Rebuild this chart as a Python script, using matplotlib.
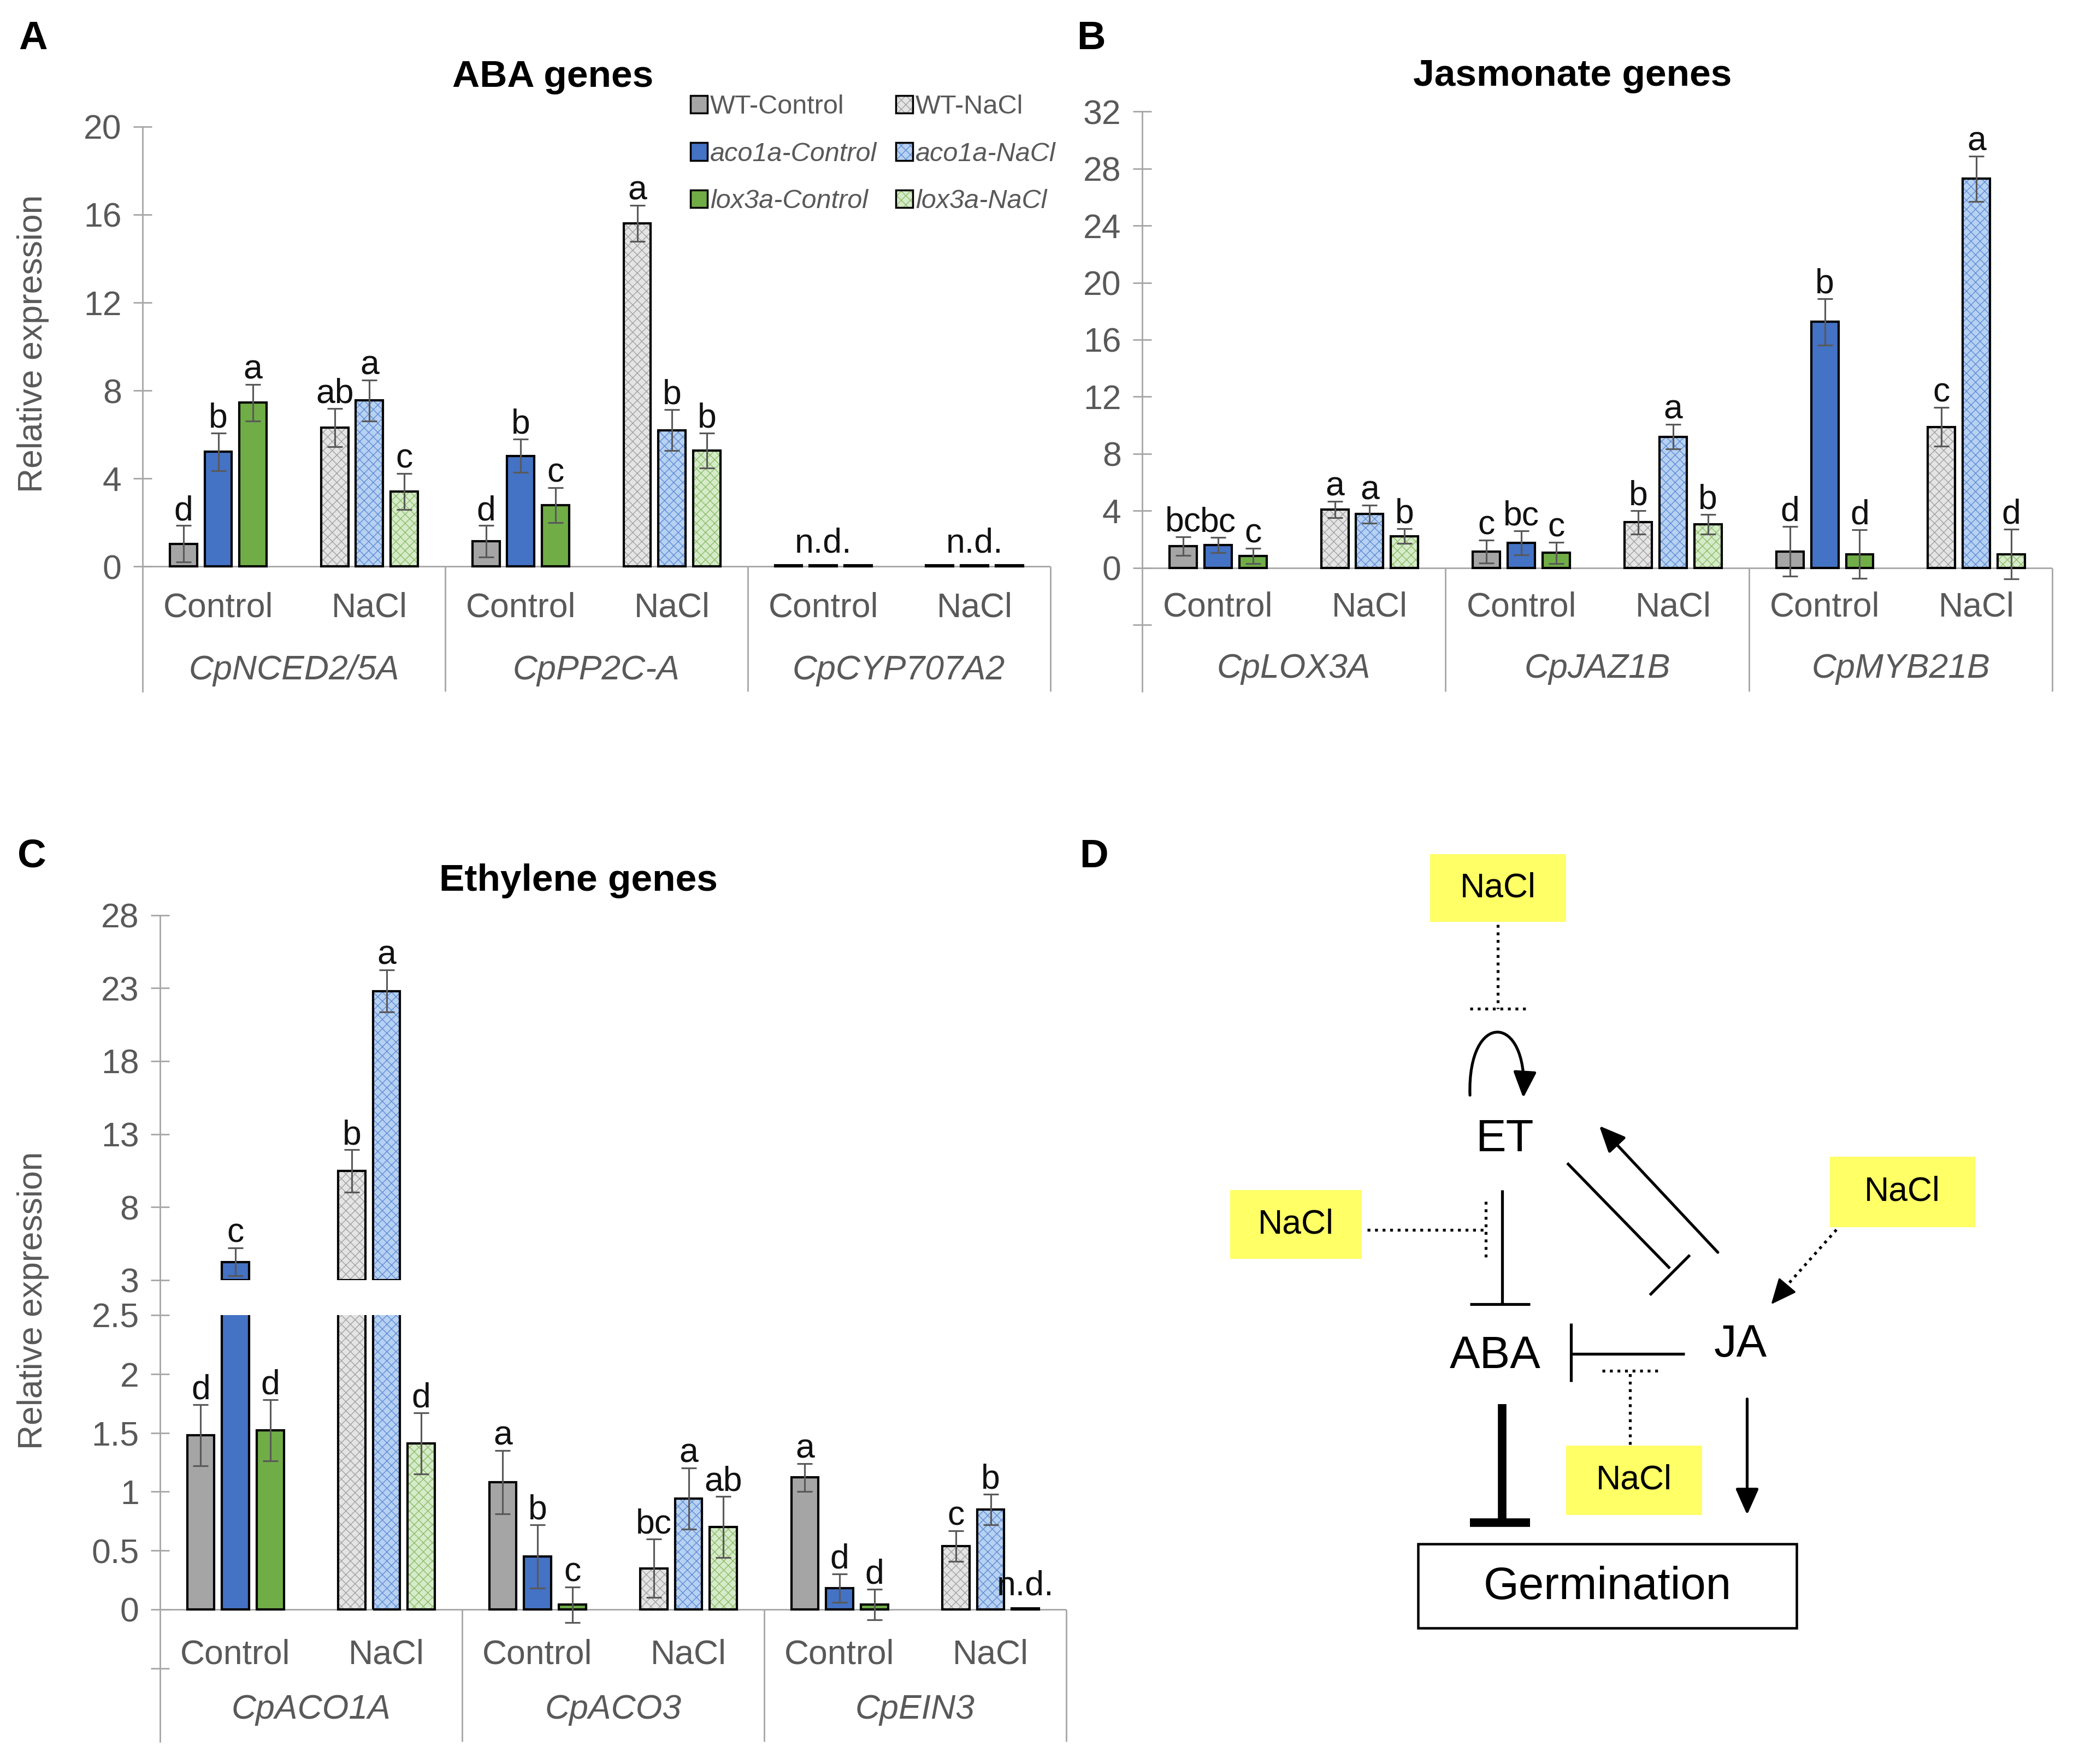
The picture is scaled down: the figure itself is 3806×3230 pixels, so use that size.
import numpy as np
import matplotlib.pyplot as plt
import matplotlib.patches as mpatches
from matplotlib.lines import Line2D
from matplotlib.path import Path

plt.rcParams['font.family'] = ['Liberation Sans', 'DejaVu Sans']
plt.rcParams['hatch.linewidth'] = 0.4

# ---- data ----
conditions = ['Control', 'NaCl', 'Control', 'NaCl', 'Control', 'NaCl']
genotypes = ['WT', 'aco1a', 'lox3a']

aba_genes = ['CpNCED2/5A', 'CpPP2C-A', 'CpCYP707A2']
aba_wt = [1.03, 6.31, 1.14, 15.6, 0.05, 0.05]
aba_wt_err = [0.83, 0.87, 0.72, 0.83, 0, 0]
aba_aco = [5.21, 7.55, 5.03, 6.2, 0.05, 0.05]
aba_aco_err = [0.85, 0.93, 0.76, 0.93, 0, 0]
aba_lox = [7.45, 3.41, 2.79, 5.27, 0.05, 0.05]
aba_lox_err = [0.83, 0.83, 0.79, 0.79, 0, 0]
aba_wt_sig = ['d', 'ab', 'd', 'a', '', '']
aba_aco_sig = ['b', 'a', 'b', 'b', 'n.d.', 'n.d.']
aba_lox_sig = ['a', 'c', 'c', 'b', '', '']

jas_genes = ['CpLOX3A', 'CpJAZ1B', 'CpMYB21B']
jas_wt = [1.53, 4.08, 1.15, 3.19, 1.15, 9.89]
jas_wt_err = [0.64, 0.58, 0.8, 0.83, 1.75, 1.37]
jas_aco = [1.6, 3.77, 1.75, 9.19, 17.26, 27.28]
jas_aco_err = [0.55, 0.63, 0.83, 0.86, 1.63, 1.6]
jas_lox = [0.83, 2.23, 1.05, 3.06, 0.96, 0.96]
jas_lox_err = [0.55, 0.51, 0.74, 0.7, 1.7, 1.75]
jas_wt_sig = ['bc', 'a', 'c', 'b', 'd', 'c']
jas_aco_sig = ['bc', 'a', 'bc', 'a', 'b', 'a']
jas_lox_sig = ['c', 'b', 'c', 'b', 'd', 'd']

eth_genes = ['CpACO1A', 'CpACO3', 'CpEIN3']
eth_wt = [1.48, 10.47, 1.08, 0.35, 1.12, 0.54]
eth_wt_err = [0.26, 1.45, 0.27, 0.25, 0.12, 0.13]
eth_aco = [4.25, 22.8, 0.45, 0.94, 0.18, 0.85]
eth_aco_err = [0.97, 1.45, 0.27, 0.26, 0.12, 0.13]
eth_lox = [1.52, 1.41, 0.04, 0.7, 0.04, 0.01]
eth_lox_err = [0.26, 0.26, 0.15, 0.26, 0.13, 0]
eth_wt_sig = ['d', 'b', 'a', 'bc', 'a', 'c']
eth_aco_sig = ['c', 'a', 'b', 'a', 'd', 'b']
eth_lox_sig = ['d', 'd', 'c', 'ab', 'd', 'n.d.']

aba_ticks = [0, 4, 8, 12, 16, 20]
jas_ticks = [-4, 0, 4, 8, 12, 16, 20, 24, 28, 32]
eth_top_ticks = [3, 8, 13, 18, 23, 28]
eth_low_ticks = [-0.5, 0, 0.5, 1, 1.5, 2, 2.5]

legend_labels = ['WT-Control', 'aco1a-Control', 'lox3a-Control',
                 'WT-NaCl', 'aco1a-NaCl', 'lox3a-NaCl']

# ---- style ----
ctrl_col = ['#A5A5A5', '#4472C4', '#70AD47']
nacl_col = ['#E4E4E4', '#B7D1F2', '#D6EBC9']
hatch_col = ['#A2A2A2', '#5F8DD6', '#8CBD69']
HATCH = 'xxxxx'
axis_gray = '#A6A6A6'
text_gray = '#595959'
offsets = [-0.23, 0.0, 0.23]
bw = 0.18
FS = 18
EDGE = 1.2

W, H = 1560.0, 1324.0


def box(l, t, r, b):
    return [l / W, 1 - b / H, (r - l) / W, (b - t) / H]


def draw_bars(ax, series, errs, sigs, lo=None, hi=None, base=0.0):
    for k in range(3):
        v = np.asarray(series[k], float)
        e = np.asarray(errs[k], float)
        x = np.arange(6) + offsets[k]
        show = np.ones(6, bool) if lo is None else v > lo
        ann = np.ones(6, bool) if hi is None else v <= hi
        if lo is not None:
            ann = ann & show
        ctrl = show & (np.arange(6) % 2 == 0)
        nacl = show & (np.arange(6) % 2 == 1)
        ax.bar(x[ctrl], v[ctrl] - base, bw, bottom=base, color=ctrl_col[k],
               edgecolor='black', linewidth=EDGE, zorder=2)
        ax.bar(x[nacl], v[nacl] - base, bw, bottom=base, color=nacl_col[k],
               hatch=HATCH, edgecolor=hatch_col[k], linewidth=0, zorder=2)
        ax.bar(x[nacl], v[nacl] - base, bw, bottom=base, fill=False,
               edgecolor='black', linewidth=EDGE, zorder=3)
        eb = ann & (e > 0)
        ax.errorbar(x[eb], v[eb], yerr=e[eb], fmt='none', ecolor=text_gray,
                    elinewidth=0.9, capsize=4, capthick=0.9, zorder=4)
        for i in np.where(ann)[0]:
            if sigs[k][i]:
                dy = 7 if sigs[k][i] == 'n.d.' else 3
                ax.annotate(sigs[k][i], (x[i], v[i] + e[i]), xytext=(0, dy),
                            textcoords='offset points', ha='center', va='baseline',
                            fontsize=FS, color='#111111', zorder=5)


def setup_y(ax, ylo, yhi, ticks):
    ax.set_xlim(-0.5, 5.5)
    ax.set_ylim(ylo, yhi)
    for s in ['top', 'right', 'bottom']:
        ax.spines[s].set_visible(False)
    ax.spines['left'].set_color(axis_gray)
    ax.spines['left'].set_linewidth(0.8)
    ax.set_xticks([])
    ax.set_yticks(ticks)
    ax.set_yticklabels(['' if t < 0 else '{:g}'.format(t) for t in ticks])
    ax.tick_params(axis='y', direction='inout', length=10, width=0.8,
                   color=axis_gray, labelcolor=text_gray, labelsize=FS, pad=6)
    ax.patch.set_alpha(0)


def category_axis(ax, genes, y_cond, y_gene, ylo):
    ax.axhline(0, color=axis_gray, lw=0.8, zorder=1)
    ax.vlines([1.5, 3.5, 5.5], ylo, 0, color=axis_gray, lw=0.8, clip_on=False)
    for i, c in enumerate(conditions):
        ax.text(i, y_cond, c, ha='center', va='center', fontsize=FS, color=text_gray)
    for j, g in enumerate(genes):
        ax.text(2 * j + 0.5, y_gene, g, ha='center', va='center', fontsize=FS,
                color=text_gray, style='italic')


fig = plt.figure(figsize=(3806 / 250, 3230 / 250), dpi=250)

# ---- panel A ----
axA = fig.add_axes(box(107, 95, 788, 519))
setup_y(axA, -5.68, 20, aba_ticks)
category_axis(axA, aba_genes, -1.87, -4.71, -5.68)
draw_bars(axA, [aba_wt, aba_aco, aba_lox], [aba_wt_err, aba_aco_err, aba_lox_err],
          [aba_wt_sig, aba_aco_sig, aba_lox_sig])

# ---- panel B ----
axB = fig.add_axes(box(857, 83.7, 1540, 519))
setup_y(axB, -8.67, 32, jas_ticks)
category_axis(axB, jas_genes, -2.78, -7.08, -8.67)
draw_bars(axB, [jas_wt, jas_aco, jas_lox], [jas_wt_err, jas_aco_err, jas_lox_err],
          [jas_wt_sig, jas_aco_sig, jas_lox_sig])

# ---- panel C (broken axis) ----
eth_series = [eth_wt, eth_aco, eth_lox]
eth_errs = [eth_wt_err, eth_aco_err, eth_lox_err]
eth_sigs = [eth_wt_sig, eth_aco_sig, eth_lox_sig]
axCt = fig.add_axes(box(120, 686.8, 800, 960.8))
setup_y(axCt, 3, 28, eth_top_ticks)
draw_bars(axCt, eth_series, eth_errs, eth_sigs, lo=3, base=3)
axCb = fig.add_axes(box(120, 987, 800, 1307))
setup_y(axCb, -1.12, 2.5, eth_low_ticks)
category_axis(axCb, eth_genes, -0.387, -0.852, -1.12)
draw_bars(axCb, eth_series, eth_errs, eth_sigs, hi=2.5)
fig.add_artist(Line2D([120 / W, 120 / W], [1 - 960.8 / H, 1 - 987 / H],
                      color=axis_gray, lw=0.8))

# ---- labels, titles ----
for letter, x, y in [('A', 14, 29), ('B', 808, 29), ('C', 13, 643), ('D', 810, 643)]:
    fig.text(x / W, 1 - y / H, letter, fontsize=21, fontweight='bold', va='center')
for title, x, y in [('ABA genes', 415, 58), ('Jasmonate genes', 1180, 57),
                    ('Ethylene genes', 434, 661)]:
    fig.text(x / W, 1 - y / H, title, fontsize=20, fontweight='bold',
             ha='center', va='center')
for y in [258, 976]:
    fig.text(25 / W, 1 - y / H, 'Relative expression', rotation=90, fontsize=FS,
             color=text_gray, ha='center', va='center')

# ---- legend ----
handles = []
for k in range(3):
    handles.append(mpatches.Patch(facecolor=ctrl_col[k], edgecolor='black', lw=1.0))
for k in range(3):
    handles.append((mpatches.Patch(facecolor=nacl_col[k], hatch=HATCH,
                                   edgecolor=hatch_col[k], lw=0),
                    mpatches.Patch(fill=False, edgecolor='black', lw=1.0)))
leg = fig.legend(handles, legend_labels, loc='upper left',
                 bbox_to_anchor=(518 / W, 1 - 71 / H), ncol=2, frameon=False,
                 fontsize=14, handlelength=0.65, handleheight=0.65,
                 handletextpad=0.1, columnspacing=0.7, labelspacing=0.85,
                 borderpad=0, borderaxespad=0, labelcolor=text_gray)
for t in leg.get_texts():
    if not t.get_text().startswith('WT'):
        t.set_style('italic')

# ---- panel D: schematic ----
axD = fig.add_axes(box(820, 615, 1560, 1324))
axD.set_xlim(820, 1560)
axD.set_ylim(1324, 615)
axD.axis('off')

YEL = '#FFFF66'


def nacl_box(l, t, r, b):
    axD.add_patch(mpatches.Rectangle((l, t), r - l, b - t, facecolor=YEL, edgecolor='none'))
    axD.text((l + r) / 2, (t + b) / 2, 'NaCl', ha='center', va='center', fontsize=18)


def seg(p, q, lw=1.5, ls='-'):
    axD.plot([p[0], q[0]], [p[1], q[1]], color='black', lw=lw, ls=ls,
             solid_capstyle='butt', dash_capstyle='butt')


def arrow(p, q, lw=1.5):
    axD.annotate('', xy=q, xytext=p,
                 arrowprops=dict(arrowstyle='-|>,head_length=0.45,head_width=0.2',
                                 lw=lw, color='black', mutation_scale=26,
                                 shrinkA=0, shrinkB=0))


nacl_box(1073, 641, 1175, 692)
nacl_box(923, 893, 1022, 945)
nacl_box(1373, 868, 1482, 921)
nacl_box(1175, 1085, 1277, 1137)

# dotted regulations by NaCl
seg((1124, 694), (1124, 757), ls=':')
seg((1103, 757), (1146, 757), ls=':')
seg((1026, 923), (1114, 923), ls=':')
seg((1115, 902), (1115, 946), ls=':')
seg((1223, 1084), (1223, 1030), ls=':')
seg((1202, 1029), (1245, 1029), ls=':')
seg((1378, 923), (1338, 968), ls=':')
arrow((1340, 966), (1329, 979), lw=1.0)

# ET self-loop
loop = Path([(1103, 822), (1101, 758), (1147, 760), (1143, 824)],
            [Path.MOVETO, Path.CURVE4, Path.CURVE4, Path.CURVE4])
axD.add_patch(mpatches.FancyArrowPatch(path=loop,
                                       arrowstyle='-|>,head_length=0.45,head_width=0.2',
                                       mutation_scale=26, lw=1.5, color='black'))

# ET -| ABA
seg((1127, 893), (1127, 979))
seg((1103, 979), (1148, 979))
# ET -| JA
seg((1176, 873), (1253, 952))
seg((1238, 972), (1268, 942))
# JA -> ET
arrow((1289, 940), (1200, 845))
# JA -| ABA
seg((1264, 1016), (1179, 1016))
seg((1179, 993), (1179, 1037))
# ABA -| germination (thick)
seg((1127, 1054), (1127, 1141), lw=4.5)
seg((1103, 1143), (1148, 1143), lw=4.5)
# JA -> germination
arrow((1311, 1050), (1311, 1137))

axD.text(1129, 855, 'ET', ha='center', va='center', fontsize=24)
axD.text(1122, 1018, 'ABA', ha='center', va='center', fontsize=24)
axD.text(1306, 1009, 'JA', ha='center', va='center', fontsize=24)
axD.add_patch(mpatches.Rectangle((1064, 1159), 284, 63, fill=False,
                                 edgecolor='black', lw=1.3))
axD.text(1206, 1191, 'Germination', ha='center', va='center', fontsize=24)

fig.savefig('out.png', dpi=250)
